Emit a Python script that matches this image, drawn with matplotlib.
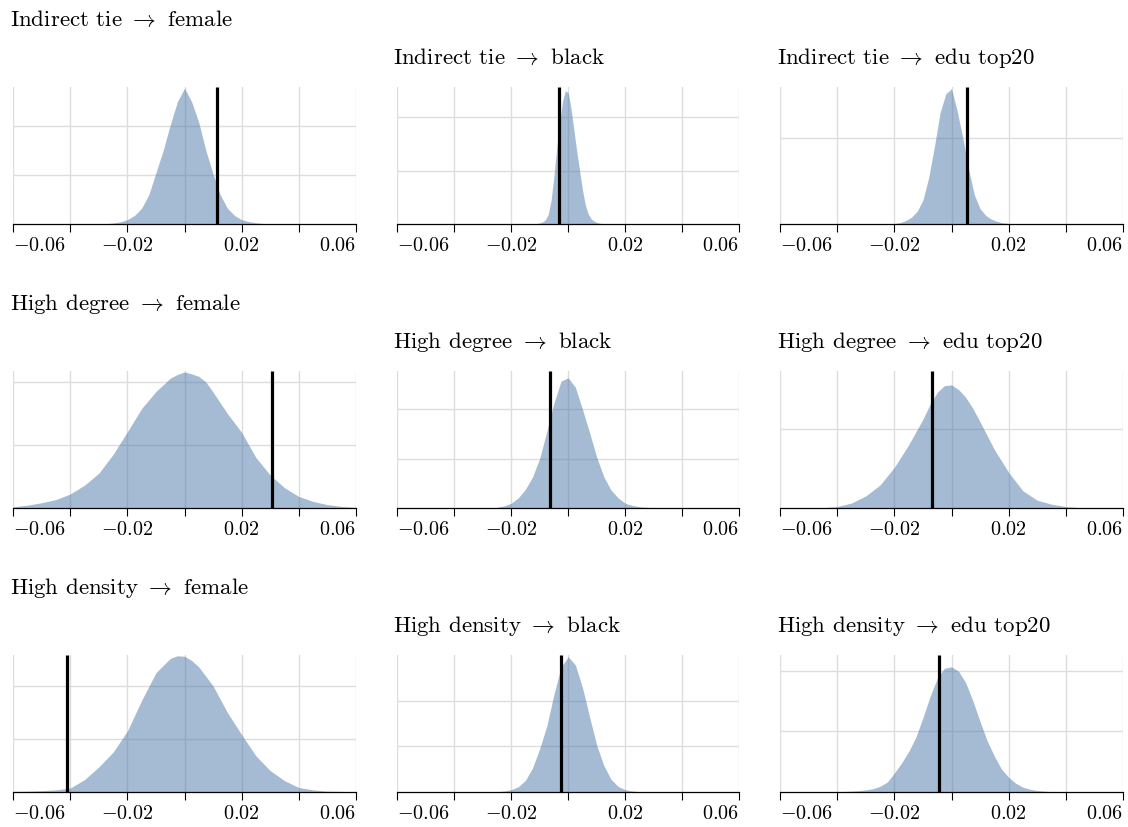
import matplotlib
matplotlib.use("Agg")
import matplotlib.pyplot as plt

plt.rcParams["font.family"] = "cmr10"
plt.rcParams["mathtext.fontset"] = "cm"
plt.rcParams["axes.unicode_minus"] = False

# panel titles, row by row
arrow = r"$\rightarrow$"
titles = [
    f"Indirect tie {arrow} female", f"Indirect tie {arrow} black", f"Indirect tie {arrow} edu top20",
    f"High degree {arrow} female", f"High degree {arrow} black", f"High degree {arrow} edu top20",
    f"High density {arrow} female", f"High density {arrow} black", f"High density {arrow} edu top20",
]

# observed effect (black rule) per panel
observed = [0.0113, -0.0031, 0.0054, 0.0305, -0.0063, -0.0068, -0.0411, -0.0024, -0.0045]

# top of y-scale and gridline step per panel
y_max = [56, 128.5, 80, 21.8, 55.7, 34.8, 25.9, 60.5, 45.3]
y_step = [20, 50, 50, 10, 20, 20, 10, 20, 20]

# null densities
tie_female_x = [-0.03, -0.0275, -0.025, -0.0225, -0.02, -0.0175, -0.015, -0.0125, -0.01, -0.0075, -0.005, -0.0025, 0.0,
                0.0025, 0.005, 0.0075, 0.01, 0.0125, 0.015, 0.0175, 0.02, 0.0225, 0.025, 0.0275, 0.03]
tie_female_y = [0, 0.15, 0.4, 0.9, 1.8, 3.5, 6.5, 12, 21, 30, 40.5, 50, 55.5,
                50, 41.5, 30, 20.5, 12, 6.5, 3.5, 1.8, 1.0, 0.5, 0.2, 0]

tie_black_x = [-0.013, -0.012, -0.011, -0.01, -0.009, -0.008, -0.007, -0.006, -0.005, -0.004, -0.003, -0.002, -0.001,
               0.0, 0.001, 0.002, 0.003, 0.004, 0.005, 0.006, 0.007, 0.008, 0.009, 0.01, 0.011, 0.012, 0.013]
tie_black_y = [0, 0.2, 0.5, 1.0, 2, 4, 9, 22, 45, 72, 95, 115, 125,
               123, 108, 88, 68, 50, 32, 18, 9.5, 5, 2.8, 1.5, 0.8, 0.3, 0]

tie_edu_x = [-0.022, -0.02, -0.018, -0.016, -0.014, -0.012, -0.01, -0.008, -0.006, -0.004, -0.002, 0.0,
             0.002, 0.004, 0.006, 0.008, 0.01, 0.012, 0.014, 0.016, 0.018, 0.02, 0.022]
tie_edu_y = [0, 0.3, 0.8, 2, 4, 7.5, 14, 27, 45, 65, 76, 79,
             66, 50, 32, 17, 9, 5, 2.8, 1.5, 0.7, 0.3, 0]

deg_female_x = [-0.06, -0.055, -0.05, -0.045, -0.04, -0.035, -0.03, -0.025, -0.02, -0.015, -0.01, -0.005, -0.0025,
                0.0, 0.0025, 0.005, 0.0075, 0.01, 0.015, 0.02, 0.025, 0.03, 0.035, 0.04, 0.045, 0.05, 0.055, 0.06]
deg_female_y = [0.15, 0.4, 0.8, 1.3, 2.2, 3.6, 5.5, 8.5, 12.1, 15.8, 18.5, 20.6, 21.2,
                21.6, 21.3, 20.9, 20.0, 18.4, 15.0, 12.0, 8.0, 5.2, 3.2, 1.8, 1.0, 0.5, 0.2, 0.05]

deg_black_x = [-0.025, -0.0225, -0.02, -0.0175, -0.015, -0.0125, -0.01, -0.0075, -0.005, -0.0025, 0.0,
               0.0025, 0.005, 0.0075, 0.01, 0.0125, 0.015, 0.0175, 0.02, 0.0225, 0.025, 0.0275, 0.03]
deg_black_y = [0.2, 0.7, 1.8, 4, 7.5, 12.5, 20, 31, 42.5, 51.5, 52.8,
               49, 40, 30.5, 20.5, 12.5, 7.2, 4.0, 1.8, 0.9, 0.4, 0.15, 0]

deg_edu_x = [-0.045, -0.04, -0.035, -0.03, -0.025, -0.02, -0.015, -0.01, -0.0075, -0.005, -0.0025, 0.0,
             0.0025, 0.005, 0.0075, 0.01, 0.015, 0.02, 0.025, 0.03, 0.035, 0.04, 0.045]
deg_edu_y = [0, 0.3, 1.2, 3.0, 5.8, 10.3, 16.0, 22.5, 26.3, 29.3, 31.0, 31.2,
             30.0, 28.0, 25.2, 21.8, 14.8, 9.0, 4.3, 1.9, 0.9, 0.3, 0]

den_female_x = [-0.06, -0.055, -0.05, -0.045, -0.04, -0.035, -0.03, -0.025, -0.02, -0.015, -0.01, -0.005, -0.0025,
                0.0, 0.0025, 0.005, 0.01, 0.015, 0.02, 0.025, 0.03, 0.035, 0.04, 0.045, 0.05, 0.055, 0.06]
den_female_y = [0.05, 0.1, 0.2, 0.35, 0.7, 2.3, 4.7, 7.5, 11.5, 17.3, 22.5, 25.2, 25.7,
                25.6, 24.8, 23.6, 20.0, 15.0, 10.8, 6.8, 4.0, 2.1, 0.8, 0.35, 0.1, 0.05, 0]

den_black_x = [-0.025, -0.0225, -0.02, -0.0175, -0.015, -0.0125, -0.01, -0.0075, -0.005, -0.0025, 0.0,
               0.0025, 0.005, 0.0075, 0.01, 0.0125, 0.015, 0.0175, 0.02, 0.0225, 0.025]
den_black_y = [0, 0.3, 0.9, 2.2, 5.0, 10.5, 19, 29, 43, 55, 59.6,
               56, 46, 33, 20.5, 11.5, 5.5, 2.3, 0.9, 0.3, 0]

den_edu_x = [-0.04, -0.0375, -0.035, -0.0325, -0.03, -0.0275, -0.025, -0.0225, -0.02, -0.0175, -0.015, -0.0125,
             -0.01, -0.0075, -0.005, -0.0025, 0.0, 0.0025, 0.005, 0.0075, 0.01, 0.0125, 0.015, 0.0175, 0.02,
             0.0225, 0.025, 0.0275, 0.03, 0.0325, 0.035]
den_edu_y = [0, 0.1, 0.2, 0.35, 0.6, 1.0, 1.8, 3.2, 6.2, 9.5, 13.3, 18.0,
             24.5, 31.5, 37.5, 40.8, 41.3, 39.8, 36.0, 30.0, 23.2, 16.8, 11.8, 7.5, 4.8,
             2.8, 1.5, 0.8, 0.4, 0.2, 0]

curves = [
    (tie_female_x, tie_female_y), (tie_black_x, tie_black_y), (tie_edu_x, tie_edu_y),
    (deg_female_x, deg_female_y), (deg_black_x, deg_black_y), (deg_edu_x, deg_edu_y),
    (den_female_x, den_female_y), (den_black_x, den_black_y), (den_edu_x, den_edu_y),
]

x_ticks = [-0.06, -0.04, -0.02, 0.0, 0.02, 0.04, 0.06]
x_labels = [r"$-0.06$", "", r"$-0.02$", "", r"$0.02$", "", r"$0.06$"]

W, H = 1128, 828
fig = plt.figure(figsize=(W / 100, H / 100), dpi=100)

col_left = [13.3, 397, 780.3]
row_bottom = [225, 508.7, 792.7]
ax_w, ax_h = 342.4, 137

for i, title in enumerate(titles):
    r, c = divmod(i, 3)
    ax = fig.add_axes([col_left[c] / W, 1 - row_bottom[r] / H, ax_w / W, ax_h / H])
    xs, ys = curves[i]

    ax.fill_between(xs, ys, 0, color="#4c78a8", alpha=0.5, linewidth=0, zorder=2)
    ax.vlines(observed[i], 0, y_max[i], color="black", linewidth=2.3, zorder=3)

    ax.set_xlim(-0.06, 0.06)
    ax.set_ylim(0, y_max[i])

    ax.set_xticks(x_ticks)
    ax.set_xticklabels(x_labels, fontsize=14.5)
    lbls = ax.get_xticklabels()
    lbls[0].set_horizontalalignment("left")
    lbls[-1].set_horizontalalignment("right")

    yt = []
    v = y_step[i]
    while v < y_max[i] - 0.5:
        yt.append(v)
        v += y_step[i]
    ax.set_yticks(yt)
    ax.tick_params(axis="y", length=0, labelleft=False)
    ax.tick_params(axis="x", length=5.5, width=0.8, direction="out", pad=3, color="black")

    ax.grid(True, color="#dddddd", linewidth=1.0, zorder=0)
    ax.set_axisbelow(True)
    for s in ["top", "left", "right"]:
        ax.spines[s].set_visible(False)
    ax.spines["bottom"].set_linewidth(0.9)
    ax.spines["bottom"].set_color("black")

    # first-column titles sit higher than the others
    off = 44.6 if c == 0 else 17.3
    ax.annotate(title, xy=(0, 1), xycoords="axes fraction", xytext=(-2.6, off),
                textcoords="offset points", ha="left", va="baseline", fontsize=16.5)

fig.savefig("out.png", dpi=100)
